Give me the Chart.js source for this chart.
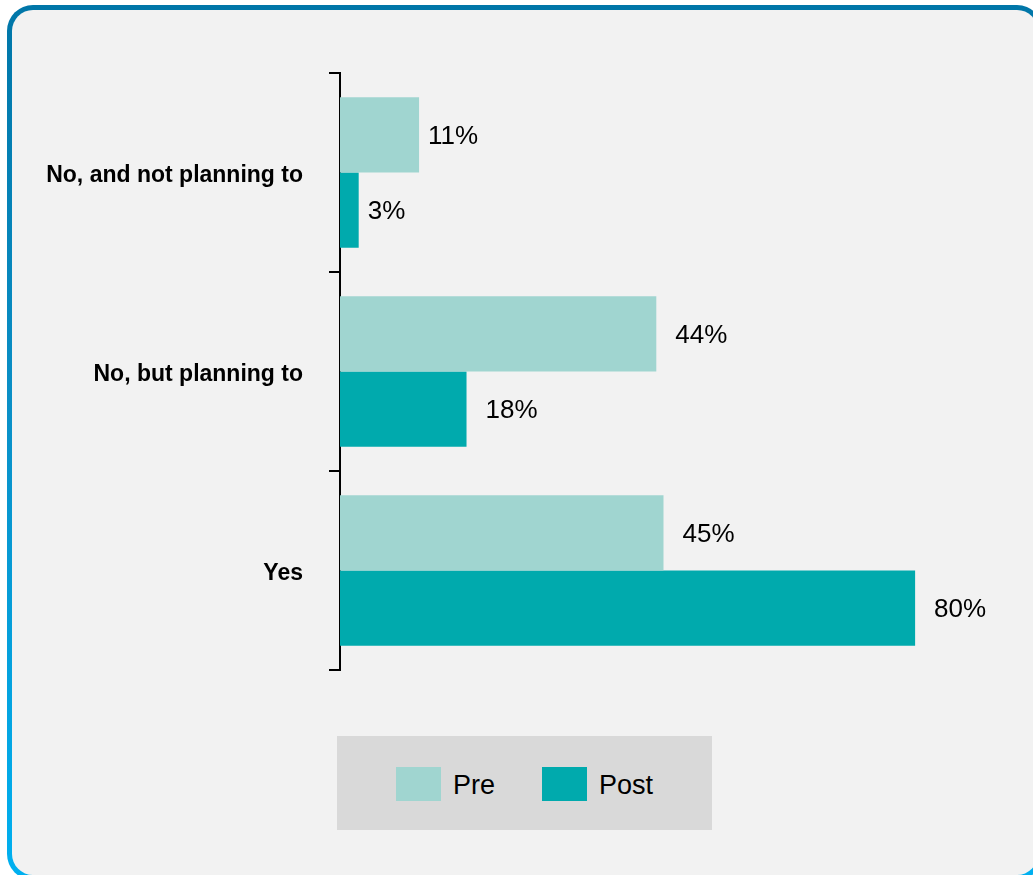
<!DOCTYPE html>
<html>
<head>
<meta charset="utf-8">
<script src="https://cdn.jsdelivr.net/npm/chart.js@4"></script>
<style>
    html, body { margin: 0; padding: 0; background: #ffffff; overflow: hidden; }
    #frame {
        position: absolute; left: 7px; top: 5px; width: 1036px; height: 875px;
        border-radius: 26px;
        background: linear-gradient(to bottom, #0076a8 0%, #0a8fc6 45%, #00b0f0 100%);
    }
    #inner {
        position: absolute; left: 5px; top: 5px; right: 5px; bottom: 5px;
        border-radius: 21px; background: #f2f2f2;
    }
    #wrap { position: absolute; left: 0; top: 0; width: 1033px; height: 875px; }
    #legend {
        position: absolute; left: 337px; top: 736px; width: 375px; height: 94px;
        background: #d9d9d9; font-family: "Liberation Sans", sans-serif; font-size: 27px;
    }
    .item { position: absolute; top: 31px; height: 34px; line-height: 34px; color: #000; }
    .swatch { position: absolute; left: 0; top: 0; width: 45px; height: 34px; }
    .item span { position: absolute; left: 57px; top: 1px; white-space: nowrap; }
</style>
</head>
<body>
<div id="frame"><div id="inner"></div></div>
<div id="wrap"><canvas id="chart" width="1033" height="875"></canvas></div>
<div id="legend"></div>
<script>
const categories = ['No, and not planning to', 'No, but planning to', 'Yes'];
const seriesNames = ['Pre', 'Post'];
const preValues = [11, 44, 45];
const postValues = [2.6, 17.6, 80];
const seriesColors = ['#a0d5d0', '#00aaad'];

// labels of the first group sit closer to their bars than the others
const valueLabels = {
    id: 'valueLabels',
    afterDatasetsDraw(chart) {
        const ctx = chart.ctx;
        ctx.save();
        ctx.font = '26px "Liberation Sans", sans-serif';
        ctx.fillStyle = '#000';
        ctx.textAlign = 'left';
        ctx.textBaseline = 'middle';
        chart.data.datasets.forEach((ds, i) => {
            chart.getDatasetMeta(i).data.forEach((bar, j) => {
                const gap = j === 0 ? 9 : 19;
                ctx.fillText(Math.round(ds.data[j]) + '%', bar.x + gap, bar.y + 2);
            });
        });
        ctx.restore();
    }
};

new Chart(document.getElementById('chart'), {
    type: 'bar',
    data: {
        labels: categories,
        datasets: [{
            label: seriesNames[0],
            data: preValues,
            backgroundColor: seriesColors[0]
        }, {
            label: seriesNames[1],
            data: postValues,
            backgroundColor: seriesColors[1]
        }]
    },
    options: {
        indexAxis: 'y',
        responsive: false,
        animation: false,
        layout: { padding: { top: 73, bottom: 205, right: 46, left: 0 } },
        datasets: { bar: { categoryPercentage: 0.757, barPercentage: 1.0 } },
        plugins: {
            legend: { display: false },
            tooltip: { enabled: false }
        },
        scales: {
            x: {
                display: false,
                min: 0,
                max: 90
            },
            y: {
                afterFit: s => { s.width = 340; },
                border: { display: true, color: '#000', width: 2 },
                grid: {
                    display: true,
                    drawOnChartArea: false,
                    drawTicks: true,
                    tickLength: 11,
                    color: '#000',
                    lineWidth: 2,
                    offset: true
                },
                ticks: {
                    padding: 26,
                    labelOffset: 3,
                    color: '#000',
                    font: { family: '"Liberation Sans", sans-serif', size: 23, weight: 'bold' }
                }
            }
        }
    },
    plugins: [valueLabels]
});

const legendEl = document.getElementById('legend');
const legendLeft = [59, 205];
seriesNames.forEach((name, i) => {
    const item = document.createElement('div');
    item.className = 'item';
    item.style.left = legendLeft[i] + 'px';
    item.innerHTML = `<div class="swatch" style="background:${seriesColors[i]}"></div><span>${name}</span>`;
    legendEl.appendChild(item);
});
</script>
</body>
</html>
